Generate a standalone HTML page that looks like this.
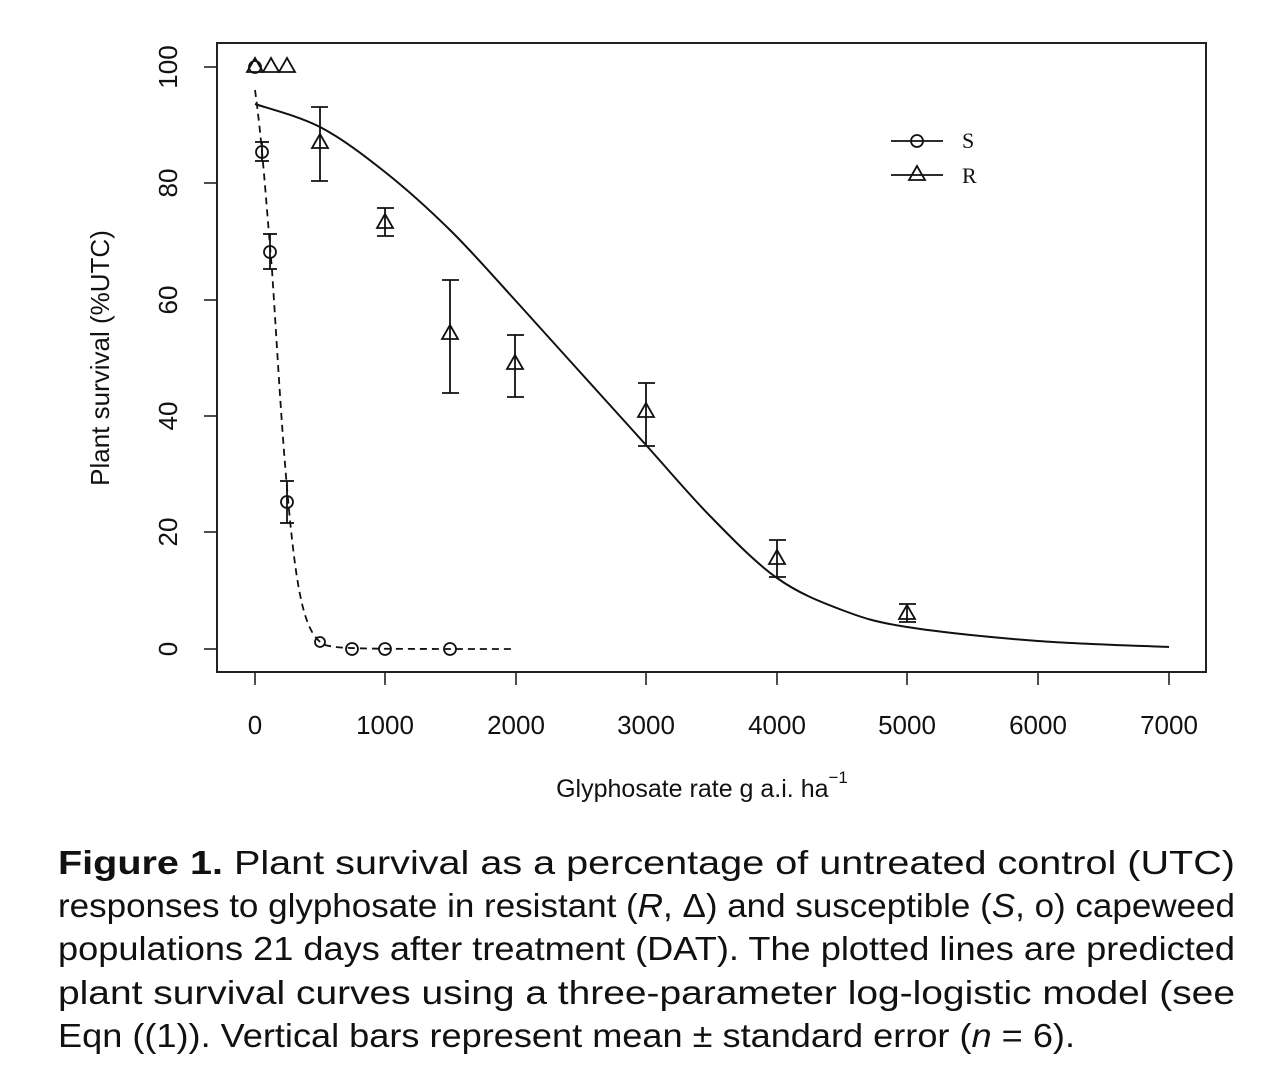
<!DOCTYPE html>
<html><head><meta charset="utf-8"><style>
html,body{margin:0;padding:0;background:#fff;}
svg{display:block;}
</style></head><body>
<svg width="1280" height="1080" viewBox="0 0 1280 1080" xmlns="http://www.w3.org/2000/svg">
<rect x="0" y="0" width="1280" height="1080" fill="#fff"/>
<rect x="217" y="43" width="989" height="629" fill="none" stroke="#222" stroke-width="2"/>
<g stroke="#222" stroke-width="1.6" fill="none">
<line x1="217" y1="67" x2="204" y2="67"/><line x1="217" y1="183" x2="204" y2="183"/>
<line x1="217" y1="300" x2="204" y2="300"/><line x1="217" y1="416" x2="204" y2="416"/>
<line x1="217" y1="532" x2="204" y2="532"/><line x1="217" y1="649" x2="204" y2="649"/>
<line x1="255" y1="672" x2="255" y2="685"/><line x1="385" y1="672" x2="385" y2="685"/>
<line x1="516" y1="672" x2="516" y2="685"/><line x1="646" y1="672" x2="646" y2="685"/>
<line x1="777" y1="672" x2="777" y2="685"/><line x1="907" y1="672" x2="907" y2="685"/>
<line x1="1038" y1="672" x2="1038" y2="685"/><line x1="1169" y1="672" x2="1169" y2="685"/>
</g>
<g font-family="Liberation Sans, sans-serif" font-size="26" fill="#111" text-anchor="middle">
<text x="255" y="734">0</text><text x="385" y="734">1000</text><text x="516" y="734">2000</text>
<text x="646" y="734">3000</text><text x="777" y="734">4000</text><text x="907" y="734">5000</text>
<text x="1038" y="734">6000</text><text x="1169" y="734">7000</text>
<text transform="translate(177,67) rotate(-90)">100</text>
<text transform="translate(177,183) rotate(-90)">80</text>
<text transform="translate(177,300) rotate(-90)">60</text>
<text transform="translate(177,416) rotate(-90)">40</text>
<text transform="translate(177,532) rotate(-90)">20</text>
<text transform="translate(177,649) rotate(-90)">0</text>
<text transform="translate(109,358) rotate(-90)">Plant survival (%UTC)</text>
<text x="702" y="797" font-size="25">Glyphosate rate g a.i. ha<tspan font-size="17" dy="-14">−1</tspan></text>
</g>
<path d="M255,104 C265.8,107.8 298.3,115.7 320,127 C341.7,138.3 363.3,154.8 385,172 C406.7,189.2 428.3,208.7 450,230 C471.7,251.3 493.3,276.3 515,300 C536.7,323.7 558.2,347.8 580,372 C601.8,396.2 624.2,420.8 646,445 C667.8,469.2 689.2,494.8 711,517 C732.8,539.2 755.2,562.5 777,578 C798.8,593.5 820.3,601.8 842,610 C863.7,618.2 874.3,621.8 907,627 C939.7,632.2 994.3,637.7 1038,641 C1081.7,644.3 1147.2,646 1169,647" fill="none" stroke="#111" stroke-width="2"/>
<path d="M255,90 C262,140 266,200 272,270 C278,360 282,440 290,520 C298,600 306,636 325,645 C340,649 360,649 515,649" fill="none" stroke="#111" stroke-width="1.8" stroke-dasharray="7,5"/>
<g stroke="#111" stroke-width="1.8" fill="none">
<line x1="262" y1="142" x2="262" y2="161"/><line x1="255" y1="142" x2="269" y2="142"/><line x1="255" y1="161" x2="269" y2="161"/>
<line x1="270" y1="234" x2="270" y2="269"/><line x1="263" y1="234" x2="277" y2="234"/><line x1="263" y1="269" x2="277" y2="269"/>
<line x1="287" y1="481" x2="287" y2="523"/><line x1="280" y1="481" x2="294" y2="481"/><line x1="280" y1="523" x2="294" y2="523"/>
<circle cx="262" cy="152" r="6"/><circle cx="270" cy="252" r="6"/><circle cx="287" cy="502" r="6"/>
<circle cx="320" cy="642" r="5"/><circle cx="352" cy="649" r="6"/><circle cx="385" cy="649" r="6"/><circle cx="450" cy="649" r="6"/>
<circle cx="255" cy="67" r="6"/>
<line x1="320" y1="107" x2="320" y2="181"/><line x1="311" y1="107" x2="328" y2="107"/><line x1="311" y1="181" x2="328" y2="181"/>
<line x1="385" y1="208" x2="385" y2="236"/><line x1="377" y1="208" x2="394" y2="208"/><line x1="377" y1="236" x2="394" y2="236"/>
<line x1="450" y1="280" x2="450" y2="393"/><line x1="442" y1="280" x2="459" y2="280"/><line x1="442" y1="393" x2="459" y2="393"/>
<line x1="515" y1="335" x2="515" y2="397"/><line x1="507" y1="335" x2="524" y2="335"/><line x1="507" y1="397" x2="524" y2="397"/>
<line x1="646" y1="383" x2="646" y2="446"/><line x1="638" y1="383" x2="655" y2="383"/><line x1="638" y1="446" x2="655" y2="446"/>
<line x1="777" y1="540" x2="777" y2="577"/><line x1="769" y1="540" x2="786" y2="540"/><line x1="769" y1="577" x2="786" y2="577"/>
<line x1="907" y1="604" x2="907" y2="622"/><line x1="899" y1="604" x2="916" y2="604"/><line x1="899" y1="622" x2="916" y2="622"/>
</g>
<g stroke="#111" stroke-width="1.8" fill="none">
<path d="M255,58 l-8,14 h16 z"/><path d="M271,58 l-8,14 h16 z"/><path d="M287,58 l-8,14 h16 z"/>
<path d="M320,134 l-8,14 h16 z"/><path d="M385,214 l-8,14 h16 z"/><path d="M450,325 l-8,14 h16 z"/>
<path d="M515,355 l-8,14 h16 z"/><path d="M646,403 l-8,14 h16 z"/><path d="M777,550 l-8,14 h16 z"/>
<path d="M907,605 l-8,14 h16 z"/>
<line x1="891" y1="141" x2="943" y2="141"/><circle cx="917" cy="141" r="6"/>
<line x1="891" y1="175" x2="943" y2="175"/><path d="M917,166 l-8,14 h16 z"/>
</g>
<g font-family="Liberation Serif, serif" font-size="22" fill="#111">
<text x="962" y="148">S</text><text x="962" y="183">R</text>
</g>
<g font-family="Liberation Sans, sans-serif" font-size="33" fill="#111">
<text x="58" y="874" textLength="1177" lengthAdjust="spacingAndGlyphs"><tspan font-weight="bold">Figure 1.</tspan> Plant  survival  as  a  percentage  of  untreated  control  (UTC)</text>
<text x="58" y="917" textLength="1177" lengthAdjust="spacingAndGlyphs">responses to glyphosate in resistant (<tspan font-style="italic">R</tspan>, Δ) and susceptible (<tspan font-style="italic">S</tspan>, ο) capeweed</text>
<text x="58" y="960" textLength="1177" lengthAdjust="spacingAndGlyphs">populations 21 days after treatment (DAT). The plotted lines are predicted</text>
<text x="58" y="1004" textLength="1177" lengthAdjust="spacingAndGlyphs">plant  survival  curves  using  a  three-parameter  log-logistic  model  (see</text>
<text x="58" y="1047" textLength="1017" lengthAdjust="spacingAndGlyphs">Eqn ((1)). Vertical bars represent mean ± standard error (<tspan font-style="italic">n</tspan> = 6).</text>
</g>
</svg>
</body></html>
